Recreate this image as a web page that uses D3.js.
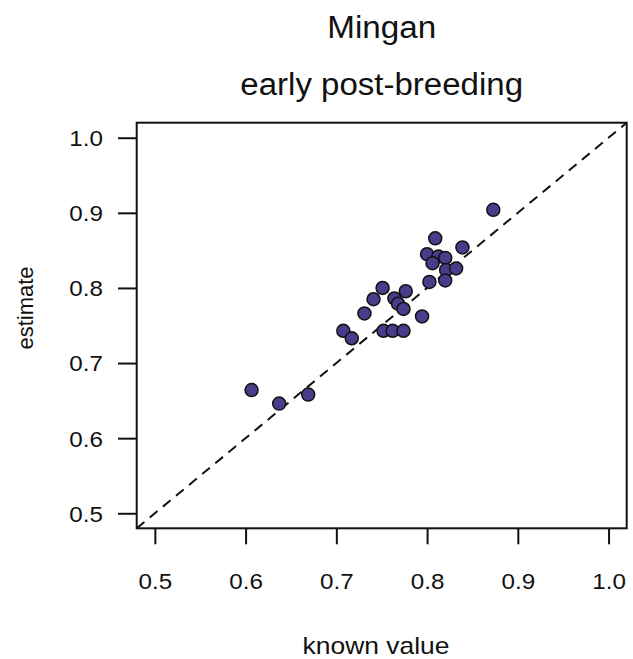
<!DOCTYPE html>
<html>
<head>
<meta charset="utf-8">
<script src="https://cdn.jsdelivr.net/npm/d3@7"></script>
<style>
  html, body { margin: 0; padding: 0; background: #fff; }
  svg { display: block; }
  text { font-family: "Liberation Sans", Arial, sans-serif; fill: #111; }
</style>
</head>
<body>
<svg id="chart" width="633" height="659"></svg>
<script>
// ---- data ----
const titleMain = "Mingan";
const titleSub = "early post-breeding";
const xLabel = "known value";
const yLabel = "estimate";
const xTicks = [0.5, 0.6, 0.7, 0.8, 0.9, 1.0];
const yTicks = [0.5, 0.6, 0.7, 0.8, 0.9, 1.0];
const knownValue = [0.873, 0.809, 0.839, 0.800, 0.8125, 0.820, 0.806, 0.821, 0.832, 0.8026,
                    0.820, 0.751, 0.7765, 0.741, 0.764, 0.768, 0.774, 0.731, 0.7945, 0.7077,
                    0.717, 0.752, 0.762, 0.774, 0.6066, 0.637, 0.669];
const estimate   = [0.904, 0.866, 0.854, 0.845, 0.842, 0.840, 0.833, 0.824, 0.826, 0.808,
                    0.810, 0.800, 0.7956, 0.785, 0.786, 0.779, 0.772, 0.766, 0.762, 0.743,
                    0.733, 0.743, 0.743, 0.743, 0.664, 0.646, 0.658];

// ---- layout ----
const svg = d3.select("#chart");
const L = 136.7, R = 626.7, T = 122.7, B = 528.3;
const x = d3.scaleLinear().domain([0.48, 1.02]).range([L, R]);
const y = d3.scaleLinear().domain([0.48, 1.02]).range([B, T]);

// horizontal stretch helper (reference image is wider than tall)
function stretch(sel, k) {
  sel.each(function () {
    const w = this.getComputedTextLength();
    d3.select(this).attr("textLength", w * k).attr("lengthAdjust", "spacingAndGlyphs");
  });
}

// titles
svg.append("text").attr("x", (L + R) / 2).attr("y", 38)
  .attr("text-anchor", "middle").style("font-size", "31px").text(titleMain)
  .call(stretch, 1.07);
svg.append("text").attr("x", (L + R) / 2).attr("y", 95)
  .attr("text-anchor", "middle").style("font-size", "31px").text(titleSub)
  .call(stretch, 1.065);

// clip
svg.append("clipPath").attr("id", "clip").append("rect")
  .attr("x", L).attr("y", T).attr("width", R - L).attr("height", B - T);

// identity line
svg.append("line")
  .attr("clip-path", "url(#clip)")
  .attr("x1", x(0.48)).attr("y1", y(0.48))
  .attr("x2", x(1.02)).attr("y2", y(1.02))
  .attr("stroke", "#111").attr("stroke-width", 2)
  .attr("stroke-dasharray", "10,7");

// points
const pts = knownValue.map((k, i) => ({ k, e: estimate[i] }));
svg.append("g").selectAll("circle").data(pts).join("circle")
  .attr("cx", d => x(d.k)).attr("cy", d => y(d.e)).attr("r", 6.5)
  .attr("fill", "#483D8B").attr("stroke", "#111").attr("stroke-width", 1.5);

// box
svg.append("rect").attr("x", L).attr("y", T).attr("width", R - L).attr("height", B - T)
  .attr("fill", "none").attr("stroke", "#111").attr("stroke-width", 2);

// x axis
const xAxis = d3.axisBottom(x).tickValues(xTicks).tickFormat(d3.format(".1f"))
  .tickSize(16).tickPadding(29);
const gx = svg.append("g").attr("transform", `translate(0,${B})`).call(xAxis);
gx.select(".domain").remove();
gx.selectAll(".tick line").attr("stroke", "#111").attr("stroke-width", 2);
gx.selectAll(".tick text").style("font-size", "22px").attr("fill", "#111")
  .attr("dy", null).attr("y", 61).call(stretch, 1.1);

// y axis
const yAxis = d3.axisLeft(y).tickValues(yTicks).tickFormat(d3.format(".1f"))
  .tickSize(18.7).tickPadding(15);
const gy = svg.append("g").attr("transform", `translate(${L},0)`).call(yAxis);
gy.select(".domain").remove();
gy.selectAll(".tick line").attr("stroke", "#111").attr("stroke-width", 2);
gy.selectAll(".tick text").style("font-size", "22px").attr("fill", "#111")
  .attr("dy", "0.36em").call(stretch, 1.1);

// axis labels
svg.append("text").attr("x", 376).attr("y", 654)
  .attr("text-anchor", "middle").style("font-size", "24px").text(xLabel)
  .call(stretch, 1.1);
svg.append("text").attr("transform", "translate(33,308) rotate(-90)")
  .attr("text-anchor", "middle").style("font-size", "22px").text(yLabel);
</script>
</body>
</html>
